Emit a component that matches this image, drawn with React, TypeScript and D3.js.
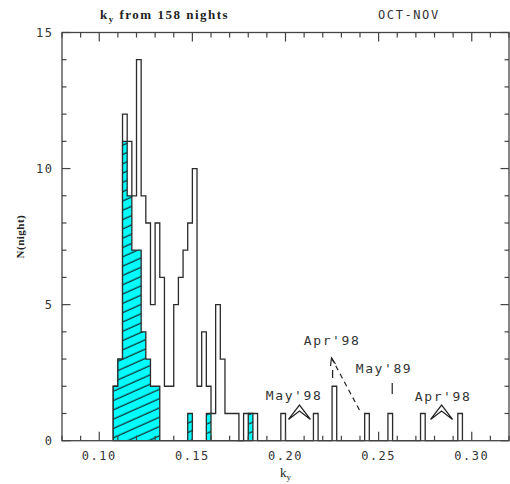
import React from 'react'
import * as d3 from 'd3'

// histogram of k_y, bin width 0.0025, left edges of every non-empty bin
const BIN_WIDTH = 0.0025
const KY_LEFT = [
  0.1075, 0.11, 0.1125, 0.115, 0.1175, 0.12, 0.1225, 0.125, 0.1275, 0.13,
  0.1325, 0.135, 0.1375, 0.14, 0.1425, 0.145, 0.1475, 0.15, 0.1525, 0.155,
  0.1575, 0.16, 0.1625, 0.165, 0.1675, 0.17, 0.1725, 0.1775, 0.18, 0.1825,
  0.1975, 0.215, 0.225, 0.2425, 0.255, 0.2725, 0.2925,
]
const N_ALL = [
  2, 3, 12, 11, 9, 14, 9, 8, 5, 8,
  6, 2, 2, 5, 6, 7, 8, 10, 2, 4,
  2, 1, 5, 3, 1, 1, 1, 1, 1, 1,
  1, 1, 2, 1, 1, 1, 1,
]
// OCT-NOV nights (hatched)
const SHADED_LEFT = [0.1075, 0.11, 0.1125, 0.115, 0.1175, 0.12, 0.1225, 0.125, 0.1275, 0.13, 0.1475, 0.1575, 0.18]
const N_SHADED = [2, 3, 11, 9, 7, 7, 4, 3, 2, 2, 1, 1, 1]

const X_MAJOR = [0.1, 0.15, 0.2, 0.25, 0.3]
const Y_MAJOR = [0, 5, 10, 15]

// annotation labels, placed in data units
const NOTES = [
  { text: "May'98", x: 0.2046, y: 1.5 },
  { text: "Apr'98", x: 0.225, y: 3.5 },
  { text: "May'89", x: 0.2529, y: 2.5 },
  { text: "Apr'98", x: 0.2846, y: 1.45 },
]
const CHEVRONS = [0.2075, 0.2838]

const W = 510
const H = 484
const M = { left: 62, right: 1, top: 32.5, bottom: 43.3 }

const mono = '"DejaVu Sans Mono", monospace'
const serif = '"Liberation Serif", "DejaVu Serif", serif'
const ink = '#2b2b2b'

function stepPoints(lefts: number[], counts: number[]) {
  const pts: [number, number][] = []
  let end = lefts[0]
  pts.push([end, 0])
  lefts.forEach((l, i) => {
    if (Math.abs(l - end) > 1e-9) {
      pts.push([end, 0])
      pts.push([l, 0])
    }
    pts.push([l, counts[i]])
    pts.push([l + BIN_WIDTH, counts[i]])
    end = l + BIN_WIDTH
  })
  pts.push([end, 0])
  return pts
}

export default function App() {
  const x = d3.scaleLinear().domain([0.08, 0.32]).range([M.left, W - M.right])
  const y = d3.scaleLinear().domain([0, 15]).range([H - M.bottom, M.top])
  const line = d3.line<[number, number]>().x(d => x(d[0])).y(d => y(d[1]))

  const allPath = line(stepPoints(KY_LEFT, N_ALL)) || ''
  const shadedPath = (line(stepPoints(SHADED_LEFT, N_SHADED)) || '') + 'Z'

  const xMinor = d3.range(8, 33).map(v => v / 100)
  const yMinor = d3.range(0, 16)
  const x0 = x.range()[0], x1 = x.range()[1]
  const y0 = y.range()[0], y1 = y.range()[1]

  const chevron = (cx: number) => {
    const ax = x(cx), ay = y(1.31), by = y(0.78), hw = 11
    return `M${ax - hw},${by}L${ax},${ay}L${ax + hw},${by}M${ax - hw},${by}L${ax},${ay + 6}L${ax + hw},${by}`
  }

  return (
    <svg width={W} height={H} style={{ position: 'fixed', left: 0, top: 0, background: '#fff' }}>
      <defs>
        <pattern id="hatch" patternUnits="userSpaceOnUse" width={20} height={8.5} patternTransform="rotate(-24)">
          <rect width={20} height={8.5} fill="#00ffff" />
          <line x1={0} x2={20} y1={4} y2={4} stroke="#111" strokeWidth={1.1} />
        </pattern>
      </defs>

      {/* histograms */}
      <path d={allPath} fill="none" stroke={ink} strokeWidth={1.3} />
      <path d={shadedPath} fill="url(#hatch)" stroke={ink} strokeWidth={1.3} />

      {/* frame and ticks */}
      <rect x={x0} y={y1} width={x1 - x0} height={y0 - y1} fill="none" stroke="#444" strokeWidth={1.3} />
      {xMinor.map(v => {
        const major = X_MAJOR.some(m => Math.abs(m - v) < 1e-9)
        const len = major ? 9 : 5
        return (
          <g key={'xt' + v} stroke="#444" strokeWidth={1.2}>
            <line x1={x(v)} x2={x(v)} y1={y0} y2={y0 - len} />
            <line x1={x(v)} x2={x(v)} y1={y1} y2={y1 + len} />
          </g>
        )
      })}
      {yMinor.map(v => {
        const major = Y_MAJOR.includes(v)
        const len = major ? 8.5 : 4.5
        return (
          <g key={'yt' + v} stroke="#444" strokeWidth={1.2}>
            <line x1={x0} x2={x0 + len} y1={y(v)} y2={y(v)} />
            <line x1={x1} x2={x1 - len} y1={y(v)} y2={y(v)} />
          </g>
        )
      })}

      {/* tick labels */}
      {X_MAJOR.map(v => (
        <text key={'xl' + v} x={x(v)} y={y0 + 19.5} textAnchor="middle" fontFamily={mono} fontSize={12}
          letterSpacing={1.5} fill="#333">{v.toFixed(2)}</text>
      ))}
      {Y_MAJOR.map(v => (
        <text key={'yl' + v} x={53.5} y={y(v) + 4.5} textAnchor="end" fontFamily={mono} fontSize={12}
          letterSpacing={1.5} fill="#333">{v}</text>
      ))}

      {/* titles */}
      <text x={100} y={18.5} fontFamily={serif} fontSize={13} fontWeight="bold" letterSpacing={1.5} fill="#222">
        k<tspan fontSize={9} dy={3}>y</tspan><tspan dy={-3}> from 158 nights</tspan>
      </text>
      <text x={378} y={18.5} fontFamily={mono} fontSize={12} letterSpacing={1.6} fill="#333">OCT-NOV</text>
      <text transform={`translate(24,${(y0 + y1) / 2}) rotate(-90)`} textAnchor="middle" fontFamily={serif}
        fontSize={11} fontWeight="bold" letterSpacing={0.5} fill="#222">N(night)</text>
      <text x={280} y={477} fontFamily={serif} fontSize={13} fill="#222">
        k<tspan fontSize={9} dy={3}>y</tspan>
      </text>

      {/* annotations */}
      {NOTES.map((n, i) => (
        <text key={'n' + i} x={x(n.x)} y={y(n.y)} textAnchor="middle" fontFamily={mono} fontSize={13}
          letterSpacing={1.6} fill="#333">{n.text}</text>
      ))}
      {CHEVRONS.map(c => (
        <path key={'c' + c} d={chevron(c)} fill="none" stroke="#222" strokeWidth={1.2} />
      ))}
      <line x1={x(0.2573)} x2={x(0.2573)} y1={y(2.12)} y2={y(1.72)} stroke="#222" strokeWidth={1.2} />
      <line x1={x(0.2397)} y1={y(1.13)} x2={x(0.2247)} y2={y(3.04)} stroke="#222" strokeWidth={1.2}
        strokeDasharray="5,4" />
      <line x1={x(0.2253)} x2={x(0.2253)} y1={y(2.6)} y2={y(2.3)} stroke="#222" strokeWidth={1.2} />
      <path d={`M${x(0.2247) - 1},${y(3.04) + 8}L${x(0.2247)},${y(3.04)}L${x(0.2247) + 4},${y(3.04) + 6}`}
        fill="none" stroke="#222" strokeWidth={1.2} />
    </svg>
  )
}
